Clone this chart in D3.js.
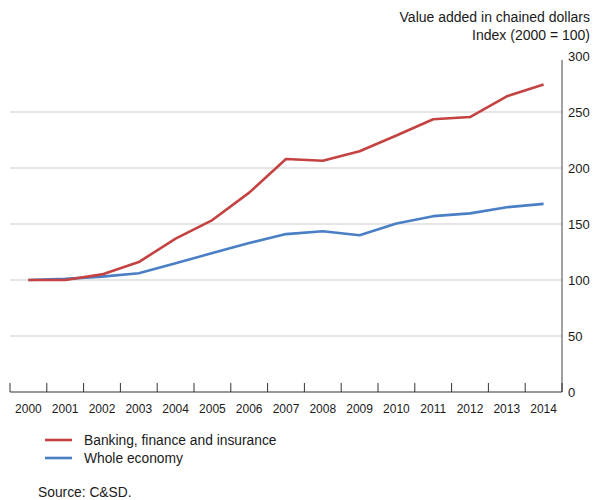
<!DOCTYPE html>
<html>
<head>
<meta charset="utf-8">
<script src="https://cdn.jsdelivr.net/npm/d3@7"></script>
<style>
  body { margin: 0; background: #fff; }
  text { font-family: "Liberation Sans", Arial, sans-serif; fill: #1a1a1a; }
</style>
</head>
<body>
<svg id="chart" width="595" height="500"></svg>
<script>
// data
const years = ['2000','2001','2002','2003','2004','2005','2006','2007','2008','2009','2010','2011','2012','2013','2014']
const banking = [100, 100, 105, 116, 137, 153.5, 178, 208, 206.5, 215, 229, 243.5, 245.5, 264, 274.5]
const whole = [100, 101, 103, 106, 115, 124, 133, 141, 143.5, 140, 150.5, 157, 159.5, 165, 168]
const yTicks = [0, 50, 100, 150, 200, 250, 300]
const seriesNames = ['Banking, finance and insurance', 'Whole economy']
const seriesColors = ['#c44241', '#4a7fc6']

const svg = d3.select('#chart')

// scales
const xScale = d3.scaleBand().domain(years).range([10, 562])
const yScale = d3.scaleLinear().domain([0, 300]).range([392, 56])

// gridlines
svg.append('g')
  .selectAll('line')
  .data(yTicks.filter(t => t > 0 && t < 300))
  .enter().append('line')
  .attr('x1', 10).attr('x2', 562)
  .attr('y1', d => yScale(d)).attr('y2', d => yScale(d))
  .attr('stroke', '#dcdcdc').attr('stroke-width', 1.5)

// right axis
const yAxis = d3.axisRight(yScale).tickValues(yTicks).tickSize(0).tickPadding(6)
const yAxisG = svg.append('g').attr('transform', 'translate(562,0)').call(yAxis)
yAxisG.select('.domain').remove()
yAxisG.selectAll('text').style('font-size', '13px').attr('dy', '0.32em')
svg.append('line')
  .attr('x1', 562).attr('x2', 562).attr('y1', 60).attr('y2', 392)
  .attr('stroke', '#808080').attr('stroke-width', 1.5)

// bottom axis: ticks at band edges
svg.append('line')
  .attr('x1', 10).attr('x2', 562).attr('y1', 392).attr('y2', 392)
  .attr('stroke', '#333').attr('stroke-width', 1.2)
svg.append('g')
  .selectAll('line')
  .data(years.concat(['end']))
  .enter().append('line')
  .attr('x1', (d, i) => i < years.length ? xScale(d) : xScale.range()[1])
  .attr('x2', (d, i) => i < years.length ? xScale(d) : xScale.range()[1])
  .attr('y1', 383).attr('y2', 392)
  .attr('stroke', '#333').attr('stroke-width', 1)

svg.append('g')
  .selectAll('text')
  .data(years)
  .enter().append('text')
  .attr('x', d => xScale(d) + xScale.bandwidth() / 2)
  .attr('y', 413)
  .attr('text-anchor', 'middle')
  .style('font-size', '12px')
  .text(d => d)

// lines
const line = d3.line()
  .x((d, i) => xScale(years[i]) + xScale.bandwidth() / 2)
  .y(d => yScale(d))

;[whole, banking].forEach((s, k) => {
  svg.append('path')
    .datum(s)
    .attr('d', line)
    .attr('fill', 'none')
    .attr('stroke', k === 0 ? seriesColors[1] : seriesColors[0])
    .attr('stroke-width', 2.6)
    .attr('stroke-linejoin', 'round')
})

// header
svg.append('text').attr('x', 590).attr('y', 22).attr('text-anchor', 'end')
  .style('font-size', '14px').text('Value added in chained dollars')
svg.append('text').attr('x', 590).attr('y', 40).attr('text-anchor', 'end')
  .style('font-size', '14px').text('Index (2000 = 100)')

// legend
const legend = svg.append('g')
seriesNames.forEach((name, i) => {
  legend.append('line')
    .attr('x1', 45).attr('x2', 72)
    .attr('y1', 440 + i * 18).attr('y2', 440 + i * 18)
    .attr('stroke', seriesColors[i]).attr('stroke-width', 2.6)
  legend.append('text')
    .attr('x', 84).attr('y', 445 + i * 18)
    .style('font-size', '13.8px')
    .text(name)
})

// source
svg.append('text').attr('x', 38).attr('y', 497)
  .style('font-size', '13.8px').text('Source: C&SD.')
</script>
</body>
</html>
